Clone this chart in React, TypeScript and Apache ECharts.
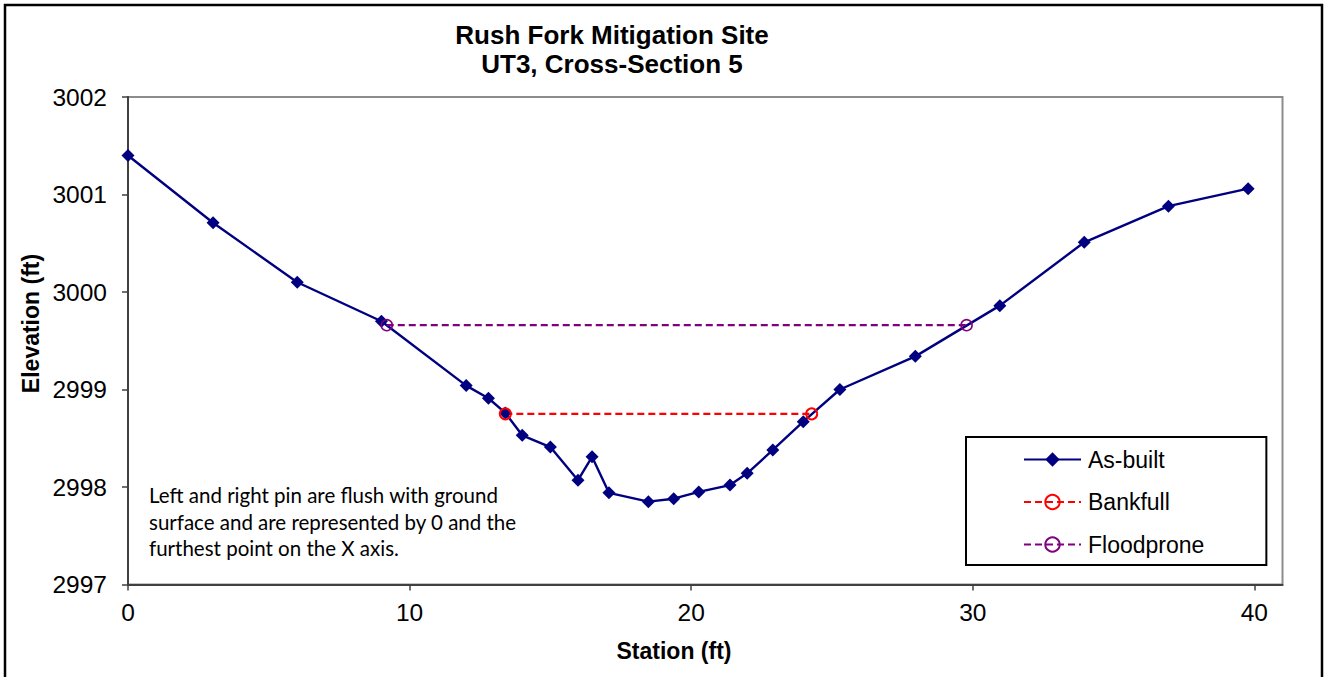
import React, { useEffect, useRef } from "react";
import * as echarts from "echarts";

// Surveyed cross-section (station ft, elevation ft)
const stations = [0, 3.02, 6.01, 9.0, 12.01, 12.8, 13.4, 14.0, 15.0, 15.98, 16.48, 17.08, 18.48, 19.38, 20.27, 21.38, 21.99, 22.9, 23.98, 25.28, 27.96, 30.96, 33.96, 36.95, 39.78];
const elevations = [3001.4, 3000.71, 3000.1, 2999.7, 2999.04, 2998.91, 2998.76, 2998.53, 2998.41, 2998.07, 2998.31, 2997.94, 2997.85, 2997.88, 2997.95, 2998.02, 2998.14, 2998.38, 2998.67, 2999.0, 2999.34, 2999.86, 3000.51, 3000.88, 3001.06];

const bankfullStations = [13.4, 24.28];
const bankfullElevation = 2998.75;

const floodproneStations = [9.19, 29.78];
const floodproneElevation = 2999.66;

const xTicks = [0, 10, 20, 30, 40];

const titleLines = ["Rush Fork Mitigation Site", "UT3, Cross-Section 5"];
const xAxisTitle = "Station (ft)";
const yAxisTitle = "Elevation (ft)";
const noteLines = [
  "Left and right pin are flush with ground",
  "surface and are represented by 0 and the",
  "furthest point on the X axis.",
];

const FONT = "'Liberation Sans', Arial, sans-serif";

export default function App() {
  const ref = useRef<HTMLDivElement>(null);

  useEffect(() => {
    if (!ref.current) return;
    const chart = echarts.init(ref.current, undefined, { renderer: "svg" });

    const asBuilt = stations.map((s, i) => [s, elevations[i]]);
    const bankfull = bankfullStations.map((s) => [s, bankfullElevation]);
    const floodprone = floodproneStations.map((s) => [s, floodproneElevation]);

    chart.setOption({
      animation: false,
      backgroundColor: "#ffffff",
      grid: {
        left: 128,
        top: 97,
        right: 43.5,
        bottom: 92.5,
        show: true,
        borderColor: "#8c8c8c",
        borderWidth: 2,
        backgroundColor: "#ffffff",
      },
      legend: {
        orient: "vertical",
        left: 966,
        top: 437,
        backgroundColor: "#ffffff",
        borderColor: "#000000",
        borderWidth: 2,
        padding: [11, 62, 9, 57],
        itemGap: 19.5,
        itemWidth: 57,
        itemHeight: 18,
        textStyle: { fontFamily: FONT, fontSize: 23, color: "#000", padding: [0, 0, 0, 2] },
        data: ["As-built", "Bankfull", "Floodprone"],
      },
      xAxis: {
        type: "value",
        min: 0,
        max: 41,
        interval: 10,
        axisLine: { show: true, lineStyle: { color: "#404040", width: 2 } },
        axisTick: { show: true, length: 6, lineStyle: { color: "#404040", width: 1.5 }, customValues: xTicks },
        axisLabel: {
          fontFamily: FONT,
          fontSize: 24.5,
          color: "#000",
          margin: 15,
          customValues: xTicks,
        },
        splitLine: { show: false },
      },
      yAxis: {
        type: "value",
        min: 2997,
        max: 3002,
        interval: 1,
        axisLine: { show: true, lineStyle: { color: "#404040", width: 2 } },
        axisTick: { show: true, length: 6, lineStyle: { color: "#404040", width: 1.5 } },
        axisLabel: {
          fontFamily: FONT,
          fontSize: 24.5,
          color: "#000",
          margin: 21,
          formatter: (v: number) => String(v),
        },
        splitLine: { show: false },
      },
      series: [
        {
          name: "As-built",
          type: "line",
          data: asBuilt,
          color: "#000080",
          symbol: "diamond",
          symbolSize: 13,
          lineStyle: { color: "#000080", width: 2.4 },
          itemStyle: { color: "#000080" },
        },
        {
          name: "Bankfull",
          type: "line",
          data: bankfull,
          color: "#ff0000",
          symbol: "circle",
          symbolSize: 11,
          lineStyle: { color: "#ff0000", width: 2.2, type: [7, 4] },
          itemStyle: { color: "rgba(255,255,255,0)", borderColor: "#ff0000", borderWidth: 2 },
        },
        {
          name: "Floodprone",
          type: "line",
          data: floodprone,
          color: "#800080",
          symbol: "circle",
          symbolSize: 11,
          lineStyle: { color: "#800080", width: 2.2, type: [7, 4] },
          itemStyle: { color: "rgba(255,255,255,0)", borderColor: "#800080", borderWidth: 1.6 },
        },
      ],
      graphic: [
        {
          type: "rect",
          shape: { x: 5, y: 5, width: 1317, height: 700 },
          style: { fill: "none", stroke: "#000", lineWidth: 2.5 },
          silent: true,
          z: 100,
        },
        {
          type: "text",
          x: 612,
          y: 49.5,
          style: {
            text: titleLines.join("\n"),
            font: `bold 26px ${FONT}`,
            lineHeight: 29,
            fill: "#000",
            textAlign: "center",
            textVerticalAlign: "middle",
          },
        },
        {
          type: "text",
          x: 674,
          y: 651,
          style: {
            text: xAxisTitle,
            font: `bold 23px ${FONT}`,
            fill: "#000",
            textAlign: "center",
            textVerticalAlign: "middle",
          },
        },
        {
          type: "text",
          x: 31,
          y: 323.5,
          rotation: Math.PI / 2,
          style: {
            text: yAxisTitle,
            font: `bold 23px ${FONT}`,
            fill: "#000",
            textAlign: "center",
            textVerticalAlign: "middle",
          },
        },
        {
          type: "text",
          x: 149,
          y: 482,
          style: {
            text: noteLines.join("\n"),
            font: "20.5px Lato, 'Noto Sans', sans-serif",
            lineHeight: 26.5,
            fill: "#000",
          },
          z: 50,
        },
      ],
    });

    return () => chart.dispose();
  }, []);

  return (
    <div
      ref={ref}
      style={{ position: "fixed", left: 0, top: 0, width: 1326, height: 677 }}
    />
  );
}
